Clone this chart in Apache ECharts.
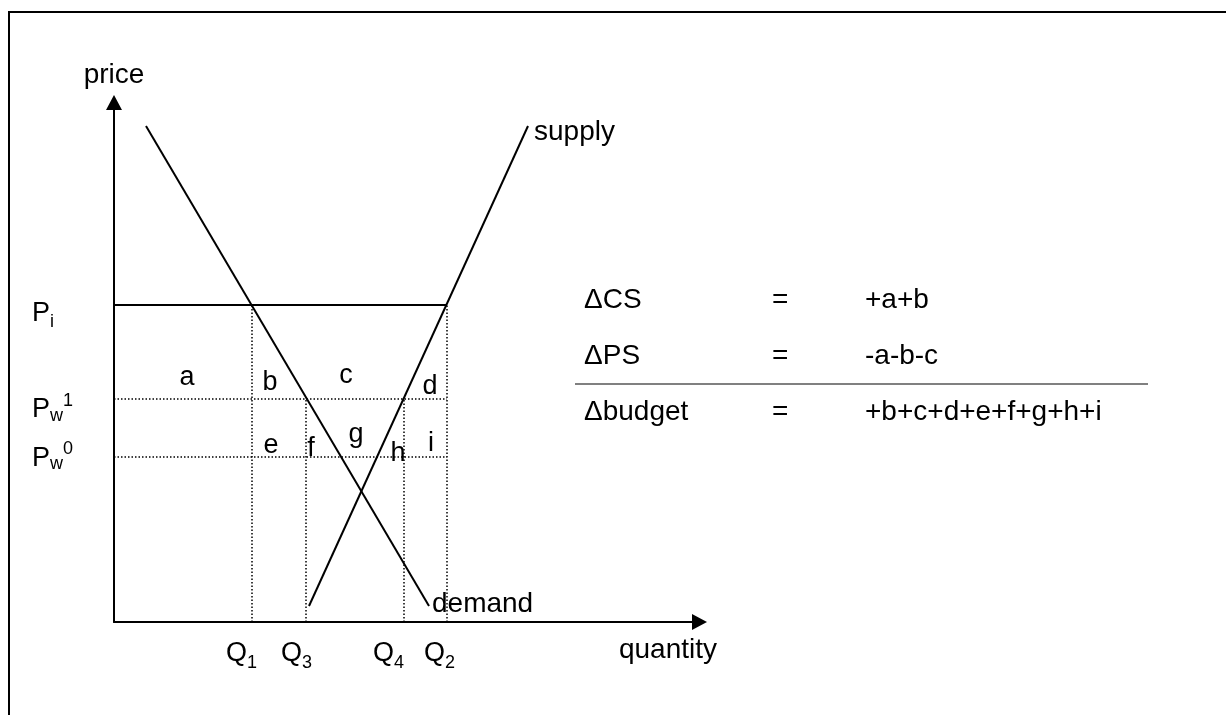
<!DOCTYPE html>
<html>
<head>
<meta charset="utf-8">
<title>import quota welfare</title>
<script src="https://cdn.jsdelivr.net/npm/echarts@6/dist/echarts.min.js"></script>
<style>
  html, body { margin: 0; padding: 0; background: #fff; }
  #chart { width: 1226px; height: 715px; }
</style>
</head>
<body>
<div id="chart"></div>
<script>
// curves, in axis units
var demandX = [3.2, 31.5];
var demandY = [49.6, 1.6];
var supplyX = [19.5, 41.4];
var supplyY = [1.6, 49.6];

// price levels (y axis): P, subscript, superscript
var priceLevels = [31.7, 22.3, 16.5];
var priceMain = ['P', 'P', 'P'];
var priceSub = ['i', 'w', 'w'];
var priceSup = ['', '1', '0'];

// quantities (x axis) and how high each dotted guide goes
var qValues = [13.8, 19.2, 29.0, 33.3];
var qTops = [31.7, 22.3, 22.3, 31.7];
var qMain = ['Q', 'Q', 'Q', 'Q'];
var qSub = ['1', '3', '4', '2'];

// area letters
var areaNames = ['a', 'b', 'c', 'd', 'e', 'f', 'g', 'h', 'i'];
var areaX = [7.3, 15.6, 23.2, 31.6, 15.7, 19.7, 24.2, 28.4, 31.7];
var areaY = [24.4, 23.9, 24.6, 23.5, 17.6, 17.3, 18.7, 16.8, 17.8];

// welfare table
var rowNames = ['ΔCS', 'ΔPS', 'Δbudget'];
var rowSigns = ['=', '=', '='];
var rowTerms = ['+a+b', '-a-b-c', '+b+c+d+e+f+g+h+i'];

var FONT = '"Liberation Sans", Arial, sans-serif';
var myChart = echarts.init(document.getElementById('chart'));

function textLabel(size) {
    return {
        show: true, position: 'inside', align: 'left', verticalAlign: 'middle',
        formatter: '{b}', fontSize: size, fontFamily: FONT, color: '#000', opacity: 1,
        textBorderWidth: 0, textShadowBlur: 0
    };
}

// one label series: names + anchors + per-item offsets
function labelSeries(names, points, offsets, size) {
    return {
        type: 'scatter',
        symbolSize: 0,
        clip: false,
        silent: true,
        itemStyle: { opacity: 1 },
        data: names.map(function (n, i) {
            return { name: n, value: points[i], label: { offset: offsets[i] } };
        }).filter(function (d) { return d.name !== ''; }),
        label: textLabel(size)
    };
}

var series = [];

// solid / dotted price lines
var qMax = Math.max.apply(null, qValues);
priceLevels.forEach(function (p, i) {
    series.push({
        type: 'line',
        data: [[0, p], [qMax, p]],
        showSymbol: false,
        silent: true,
        lineStyle: i === 0 ? { color: '#000', width: 2 } : { color: '#000', width: 1.5, type: [1.5, 2] }
    });
});

// vertical dotted guides
qValues.forEach(function (q, i) {
    series.push({
        type: 'line',
        data: [[q, 0], [q, qTops[i]]],
        showSymbol: false,
        silent: true,
        lineStyle: { color: '#000', width: 1.5, type: [1.5, 2] }
    });
});

// demand and supply
series.push({
    type: 'line',
    data: demandX.map(function (x, i) { return [x, demandY[i]]; }),
    showSymbol: false,
    lineStyle: { color: '#000', width: 2 },
    endLabel: { show: true, formatter: 'demand', distance: 3, offset: [0, -2],
        fontSize: 28, fontFamily: FONT, color: '#000' }
});
series.push({
    type: 'line',
    data: supplyX.map(function (x, i) { return [x, supplyY[i]]; }),
    showSymbol: false,
    lineStyle: { color: '#000', width: 2 },
    endLabel: { show: true, formatter: 'supply', distance: 6, offset: [0, 6],
        fontSize: 28, fontFamily: FONT, color: '#000' }
});

// price labels, anchored at the axis
var pAnchor = priceLevels.map(function (p) { return [0, p]; });
var pShift = [9, 11, 1.5];
series.push(labelSeries(priceMain, pAnchor, pShift.map(function (d) { return [-82, d]; }), 27));
series.push(labelSeries(priceSub, pAnchor, pShift.map(function (d, i) {
    return [-64, d + (i === 0 ? 8 : 6)];
}), 18));
series.push(labelSeries(priceSup, pAnchor, pShift.map(function (d) { return [-51, d - 9]; }), 18));

// quantity labels, anchored at the axis
var qAnchor = qValues.map(function (q) { return [q, 0]; });
var qShift = [-26, -25, -31, -23];
series.push(labelSeries(qMain, qAnchor, qShift.map(function (d) { return [d, 32]; }), 27));
series.push(labelSeries(qSub, qAnchor, qShift.map(function (d) { return [d + 21, 41]; }), 18));

// area letters
series.push({
    type: 'scatter',
    symbolSize: 0,
    clip: false,
    silent: true,
    itemStyle: { opacity: 1 },
    data: areaNames.map(function (n, i) { return { value: [areaX[i], areaY[i]], name: n }; }),
    label: Object.assign(textLabel(27), { align: 'center' })
});

// frame and table
var graphic = [{
    type: 'rect', z: -1, silent: true,
    shape: { x: 9, y: 12, width: 1260, height: 760 },
    style: { fill: 'none', stroke: '#000', lineWidth: 2 }
}, {
    type: 'line', silent: true,
    shape: { x1: 575, y1: 384, x2: 1148, y2: 384 },
    style: { stroke: '#808080', lineWidth: 2 }
}];
var rowY = [300, 356, 412];
var colX = [584, 772, 865];
rowNames.forEach(function (n, i) {
    [n, rowSigns[i], rowTerms[i]].forEach(function (t, j) {
        graphic.push({
            type: 'text', silent: true, x: colX[j], y: rowY[i],
            style: { text: t, fontSize: 28, fontFamily: FONT, fill: '#000',
                align: 'left', verticalAlign: 'middle', textAlign: 'left', textVerticalAlign: 'middle' }
        });
    });
});

var arrowAxis = {
    show: true, lineStyle: { color: '#000', width: 2 },
    symbol: ['none', 'triangle'], symbolSize: [16, 15]
};

myChart.setOption({
    animation: false,
    backgroundColor: '#fff',
    grid: { left: 114, top: 102.5, right: 526.5, bottom: 93, containLabel: false },
    xAxis: {
        type: 'value', min: 0, max: 58.55,
        name: 'quantity', nameLocation: 'end', nameGap: 17.5,
        nameTextStyle: { fontSize: 28, fontFamily: FONT, color: '#000', align: 'right',
            verticalAlign: 'top', lineHeight: 28, padding: [14, 0, 0, 0] },
        axisLine: arrowAxis,
        axisTick: { show: false }, axisLabel: { show: false }, splitLine: { show: false }
    },
    yAxis: {
        type: 'value', min: 0, max: 51.95,
        name: 'price', nameLocation: 'end', nameGap: 13,
        nameTextStyle: { fontSize: 28, fontFamily: FONT, color: '#000', align: 'center',
            verticalAlign: 'bottom', lineHeight: 28 },
        axisLine: arrowAxis,
        axisTick: { show: false }, axisLabel: { show: false }, splitLine: { show: false }
    },
    series: series,
    graphic: graphic
});
</script>
</body>
</html>
